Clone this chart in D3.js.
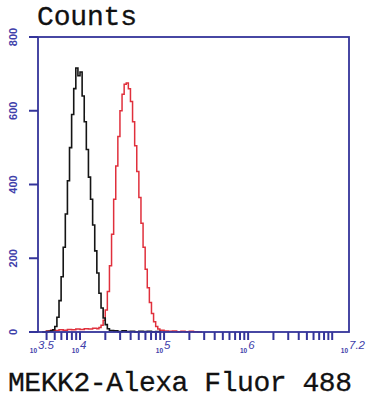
<!DOCTYPE html>
<html>
<head>
<meta charset="utf-8">
<script src="https://cdn.jsdelivr.net/npm/d3@7"></script>
<style>
  body { margin: 0; background: #fff; }
  svg { display: block; }
</style>
</head>
<body>
<div id="chart"></div>
<script>
// histogram bins: [log10 intensity at bin start, count]
const controlHist = [
  [3.55, 0], [3.60, 1], [3.625, 2], [3.65, 3], [3.675, 6], [3.70, 15], [3.725, 40],
  [3.75, 85], [3.775, 150], [3.80, 230], [3.825, 320], [3.85, 410], [3.875, 500],
  [3.90, 590], [3.925, 660], [3.95, 716], [3.975, 695], [4.0, 705], [4.025, 640],
  [4.05, 570], [4.075, 495], [4.10, 420], [4.125, 360], [4.15, 290], [4.175, 220],
  [4.20, 160], [4.225, 105], [4.25, 65], [4.275, 38], [4.30, 20], [4.325, 9],
  [4.35, 4], [4.40, 3], [4.45, 1], [4.50, 3], [4.55, 1], [4.60, 2], [4.65, 0],
  [4.70, 2], [4.75, 1], [4.80, 2], [4.85, 0], [4.90, 1], [4.95, 0]
]
const mekk2Hist = [
  [3.55, 0], [3.60, 3], [3.65, 5], [3.70, 4], [3.75, 6], [3.80, 5], [3.85, 7],
  [3.90, 6], [3.95, 8], [4.00, 7], [4.05, 9], [4.10, 8], [4.15, 10], [4.20, 9],
  [4.225, 12], [4.25, 18], [4.275, 32], [4.30, 60], [4.325, 110], [4.35, 180],
  [4.375, 265], [4.40, 360], [4.425, 450], [4.45, 530], [4.475, 600], [4.50, 645],
  [4.525, 672], [4.55, 675], [4.575, 660], [4.60, 625], [4.625, 570], [4.65, 505],
  [4.675, 435], [4.70, 365], [4.725, 295], [4.75, 230], [4.775, 170], [4.80, 120],
  [4.825, 80], [4.85, 50], [4.875, 28], [4.90, 15], [4.925, 8], [4.95, 5],
  [5.0, 3], [5.05, 2], [5.1, 3], [5.15, 1], [5.2, 2], [5.25, 1], [5.3, 2],
  [5.35, 1], [5.4, 0], [5.45, 0]
]
const yTicks = [0, 200, 400, 600, 800]
const xLabels = [
  { exp: 3.5, text: '3.5' },
  { exp: 4, text: '4' },
  { exp: 5, text: '5' },
  { exp: 6, text: '6' },
  { exp: 7.2, text: '7.2' }
]
const xTitle = 'MEKK2-Alexa Fluor 488'
const yTitle = 'Counts'

const fullWidth = 369,
  fullHeight = 400,
  margin = { top: 37, right: 20, bottom: 68, left: 38 },
  width = fullWidth - margin.left - margin.right,
  height = fullHeight - margin.top - margin.bottom,
  axisColor = '#34349a',
  labelColor = '#4040aa'

const svg = d3.select('#chart')
  .append('svg')
    .attr('width', fullWidth)
    .attr('height', fullHeight)

svg.append('rect')
  .attr('width', fullWidth)
  .attr('height', fullHeight)
  .attr('fill', '#fff')

const g = svg.append('g')
  .attr('transform', `translate(${margin.left}, ${margin.top})`)

const xScale = d3.scaleLinear().domain([3.5, 7.2]).range([0, width])
const yScale = d3.scaleLinear().domain([0, 800]).range([height, 0])

// log minor ticks 2..9 x 10^k plus decades
const minorTicks = []
for (let k = 3; k <= 7; k++) {
  for (let m = 1; m <= 9; m++) {
    const v = Math.log10(m * Math.pow(10, k))
    if (v > 3.5 && v < 7.2) minorTicks.push(v)
  }
}

// histograms
const line = d3.line()
  .x(d => xScale(d[0]))
  .y(d => yScale(d[1]))
  .curve(d3.curveStepAfter)

g.append('path')
  .datum(mekk2Hist)
  .attr('fill', 'none')
  .attr('stroke', '#e0303c')
  .attr('stroke-width', 1.5)
  .attr('d', line)

g.append('path')
  .datum(controlHist)
  .attr('fill', 'none')
  .attr('stroke', '#151515')
  .attr('stroke-width', 1.6)
  .attr('d', line)

// frame
g.append('rect')
  .attr('width', width)
  .attr('height', height)
  .attr('fill', 'none')
  .attr('stroke', axisColor)
  .attr('stroke-width', 1.8)

// x ticks (below axis)
g.selectAll('.xtick')
  .data(minorTicks)
  .enter()
  .append('line')
    .attr('class', 'xtick')
    .attr('x1', d => xScale(d))
    .attr('x2', d => xScale(d))
    .attr('y1', height)
    .attr('y2', height + 8)
    .attr('stroke', axisColor)
    .attr('stroke-width', 2)

// y ticks (left of axis)
g.selectAll('.ytick')
  .data(yTicks)
  .enter()
  .append('line')
    .attr('class', 'ytick')
    .attr('x1', -9)
    .attr('x2', 0)
    .attr('y1', d => yScale(d))
    .attr('y2', d => yScale(d))
    .attr('stroke', axisColor)
    .attr('stroke-width', 2)

// y tick labels, rotated
g.selectAll('.ylab')
  .data(yTicks)
  .enter()
  .append('text')
    .attr('class', 'ylab')
    .attr('transform', d => `translate(${13 - margin.left}, ${yScale(d)}) rotate(-90)`)
    .attr('text-anchor', 'middle')
    .attr('dy', '0.35em')
    .attr('font-family', 'Liberation Sans, Arial, sans-serif')
    .attr('font-weight', 'bold')
    .attr('font-size', 11)
    .attr('fill', labelColor)
    .text(d => d)

// x tick labels: small "10" + exponent
const xl = g.selectAll('.xlab')
  .data(xLabels)
  .enter()
  .append('g')
    .attr('class', 'xlab')
    .attr('transform', d => `translate(${xScale(d.exp)}, ${height + 21})`)

xl.append('text')
  .attr('x', -1)
  .attr('text-anchor', 'end')
  .attr('font-family', 'Liberation Sans, Arial, sans-serif')
  .attr('font-weight', 'bold')
  .attr('font-size', 6.5)
  .attr('fill', labelColor)
  .text('10')

xl.append('text')
  .attr('x', 0)
  .attr('dy', -4)
  .attr('font-family', 'Liberation Sans, Arial, sans-serif')
  .attr('font-style', 'italic')
  .attr('font-size', 11.5)
  .attr('fill', labelColor)
  .text(d => d.text)

// titles
svg.append('text')
  .attr('x', 37)
  .attr('y', 25)
  .attr('font-family', 'Liberation Mono, Courier New, monospace')
  .attr('font-size', 28)
  .attr('textLength', 100)
  .attr('fill', '#111')
  .attr('stroke', '#111')
  .attr('stroke-width', 0.3)
  .text(yTitle)

svg.append('text')
  .attr('x', 8)
  .attr('y', 391)
  .attr('font-family', 'Liberation Mono, Courier New, monospace')
  .attr('font-size', 28)
  .attr('textLength', 344)
  .attr('fill', '#111')
  .attr('stroke', '#111')
  .attr('stroke-width', 0.3)
  .text(xTitle)
</script>
</body>
</html>
